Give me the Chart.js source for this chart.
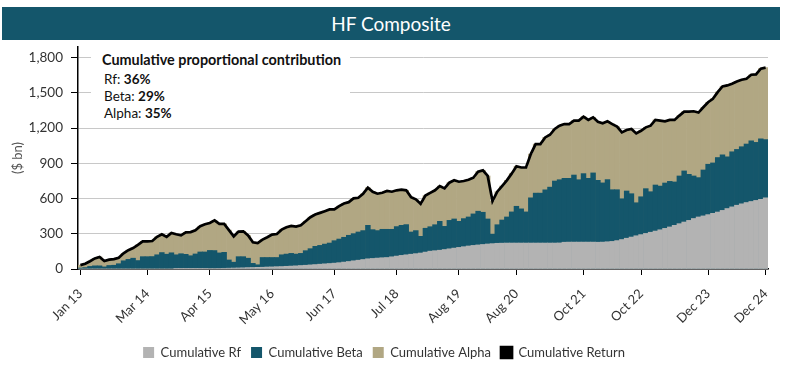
<!DOCTYPE html>
<html>
<head>
<meta charset="utf-8">
<script src="https://cdn.jsdelivr.net/npm/chart.js@4.4.1/dist/chart.umd.min.js"></script>
<style>
  body { margin: 0; width: 789px; height: 371px; background: #fff; position: relative; overflow: hidden; font-family: Lato, "Noto Sans", sans-serif; }
  #title { position: absolute; left: 2px; top: 7px; width: 778px; height: 33px; background: #14566b; color: #fff; font-size: 19px; line-height: 33px; text-align: center; }
  #wrap { position: absolute; left: 0; top: 40px; width: 789px; height: 331px; }
  #note { position: absolute; left: 91px; top: 46px; width: 259px; height: 76px; background: #fff; color: #111; font-size: 13.5px; }
  #note .head { position: absolute; left: 11px; top: 5px; font-size: 14.4px; font-weight: bold; white-space: nowrap; }
  #note .row { position: absolute; left: 13px; white-space: nowrap; }
  #note b { font-weight: bold; }
</style>
</head>
<body>
<div id="title">HF Composite</div>
<div id="wrap"><canvas id="chart" width="789" height="331"></canvas></div>
<div id="note">
  <div class="head">Cumulative proportional contribution</div>
  <div class="row" style="top:25px">Rf: <b>36%</b></div>
  <div class="row" style="top:42px">Beta: <b>29%</b></div>
  <div class="row" style="top:59px">Alpha: <b>35%</b></div>
</div>
<script>
// monthly categories Jan 13 .. Dec 24
const monthNames = ["Jan", "Feb", "Mar", "Apr", "May", "Jun", "Jul", "Aug", "Sep", "Oct", "Nov", "Dec"];
const labels = [];
for (let yr = 13; yr <= 24; yr++) {
  monthNames.forEach(m => labels.push(m + " " + yr));
}

// only these months get a tick label
const shownTicks = ["Jan 13", "Mar 14", "Apr 15", "May 16", "Jun 17", "Jul 18", "Aug 19", "Aug 20", "Oct 21", "Oct 22", "Dec 23", "Dec 24"];

// top of the grey band (cumulative Rf), $ bn
const rfLevel = [
  0, 0, 0, 0, 0, 0, 0, 0, 0, 0, 0, 0, 0, 0, 0, 0, 0, 0, 0, 0,
  1, 1, 2, 2, 2, 3, 3, 4, 4, 5, 6, 7, 8, 9, 10, 12, 13,
  14, 15, 17, 18, 20, 21, 23, 25, 27, 30, 32, 35, 38, 41, 44, 47, 50,
  54, 59, 64, 70, 75, 81, 87, 90, 93, 96, 98, 104, 110, 116, 121, 126, 131, 136,
  144, 152, 156, 160, 166, 172, 178, 184, 190, 196, 201, 205, 209, 213, 216,
  219, 220, 221, 221, 221, 221, 221, 221, 221, 221, 221, 221, 221, 222,
  228, 229, 229, 229, 229, 229, 229,
  228, 229, 232, 235, 242, 251, 262, 272, 283, 293, 303, 313, 323, 334, 346, 358, 372, 386,
  400, 414, 430, 443, 452, 463, 474, 485, 499, 515, 529, 543, 555, 566, 575, 584, 593, 606
];

// top of the teal band (Rf + Beta), $ bn
const betaLevel = [
  8, 12, 22, 27, 27, 18, 30, 32, 45, 70, 82, 92, 72, 105, 105, 106, 121, 140, 126, 138,
  121, 130, 125, 113, 128, 145, 145, 158, 157, 137, 142, 77, 58, 105, 105, 92, 48,
  36, 98, 98, 98, 98, 121, 127, 133, 127, 133, 156, 173, 193, 201, 212, 221, 241,
  255, 270, 287, 301, 315, 327, 372, 335, 327, 338, 338, 338, 361, 372, 378, 315, 327, 278,
  347, 360, 377, 406, 363, 414, 426, 406, 429, 443, 469, 492, 483, 426, 297,
  377, 417, 443, 486, 534, 512, 486, 606, 646, 646, 674, 697, 749, 760,
  772, 772, 800, 760, 812, 772, 818,
  755, 733, 761, 675, 675, 598, 664, 641, 564, 615, 684, 658, 715, 706, 732, 746, 741, 792,
  835, 806, 792, 778, 843, 892, 903, 949, 972, 955, 998, 1018, 1041, 1064, 1092, 1078, 1109, 1101
];

// cumulative return (top of the tan band and the black line), $ bn
const returnLevel = [
  33, 45, 66, 90, 103, 68, 80, 84, 95, 133, 160, 178, 205, 235, 235, 238, 274, 296, 274, 307,
  296, 287, 312, 314, 330, 364, 381, 392, 414, 384, 384, 331, 278, 318, 321, 286, 228,
  221, 250, 270, 293, 298, 335, 355, 367, 361, 372, 407, 441, 464, 478, 492, 507, 507,
  535, 558, 569, 601, 606, 641, 692, 658, 641, 649, 664, 658, 670, 675, 670, 612, 593, 555,
  625, 648, 670, 706, 686, 735, 755, 743, 749, 760, 777, 829, 840, 792, 578,
  658, 706, 755, 812, 875, 864, 864, 978, 1063, 1063, 1120, 1143, 1192, 1220,
  1234, 1234, 1263, 1263, 1297, 1269, 1291,
  1253, 1241, 1257, 1234, 1212, 1163, 1183, 1192, 1154, 1177, 1206, 1220, 1269, 1263, 1257, 1269, 1269, 1306,
  1340, 1340, 1343, 1332, 1377, 1420, 1449, 1506, 1554, 1563, 1577, 1597, 1611, 1620, 1654, 1657, 1706, 1714
];

const colRf = "#b3b3b3";
const colBeta = "#14566b";
const colAlpha = "#b1a783";
const txt = "#333";
const font = "Lato, 'Noto Sans', sans-serif";

const barStyle = { barPercentage: 1, categoryPercentage: 1, grouped: false, borderWidth: 0 };

new Chart(document.getElementById("chart"), {
  type: "bar",
  data: {
    labels: labels,
    datasets: [
      { label: "Cumulative Rf", data: rfLevel, backgroundColor: colRf, order: 1, ...barStyle },
      { label: "Cumulative Beta", data: betaLevel, backgroundColor: colBeta, order: 2, ...barStyle },
      { label: "Cumulative Alpha", data: returnLevel, backgroundColor: colAlpha, order: 3, ...barStyle },
      {
        type: "line", label: "Cumulative Return", data: returnLevel,
        borderColor: "#000", backgroundColor: "#000", borderWidth: 2.7,
        pointRadius: 0, tension: 0, order: 0
      }
    ]
  },
  options: {
    responsive: false,
    animation: false,
    devicePixelRatio: 1,
    layout: { padding: { top: 7, right: 21, left: 0, bottom: 2 } },
    plugins: {
      tooltip: { enabled: false },
      legend: {
        position: "bottom",
        labels: {
          boxWidth: 11, boxHeight: 11, padding: 10, color: txt,
          font: { family: font, size: 13 },
          sort: (a, b) => a.datasetIndex - b.datasetIndex
        }
      }
    },
    scales: {
      x: {
        offset: true,
        afterFit: s => { s.height = 67; },
        grid: {
          display: true, drawOnChartArea: false, offset: false, tickLength: 6,
          tickColor: c => shownTicks.includes(labels[c.index]) ? "#000" : "rgba(0,0,0,0)"
        },
        border: { color: "#000", width: 1.5 },
        ticks: {
          autoSkip: false, maxRotation: 45, minRotation: 45, padding: 11, color: txt,
          font: { family: font, size: 13 },
          callback: function (v) {
            const l = this.getLabelForValue(v);
            return shownTicks.includes(l) ? l : "";
          }
        }
      },
      y: {
        min: 0, max: 1890,
        afterFit: s => { s.width = 78; s.paddingTop = 0; },
        title: { display: true, text: "($ bn)", color: "#555", font: { family: font, size: 13 }, padding: { top: 10, bottom: 0 } },
        grid: {
          tickLength: 7,
          color: c => c.tick && c.tick.value % 300 === 0 ? "#c8c8c8" : "#e6e6e6",
          tickColor: c => c.tick && c.tick.value % 300 === 0 ? "#000" : "rgba(0,0,0,0)"
        },
        border: { color: "#000", width: 1.5 },
        ticks: {
          stepSize: 150, includeBounds: false, padding: 8, color: txt,
          font: { family: font, size: 13.5 },
          callback: v => v % 300 === 0 ? v.toLocaleString("en-US") : ""
        }
      }
    }
  }
});
</script>
</body>
</html>
